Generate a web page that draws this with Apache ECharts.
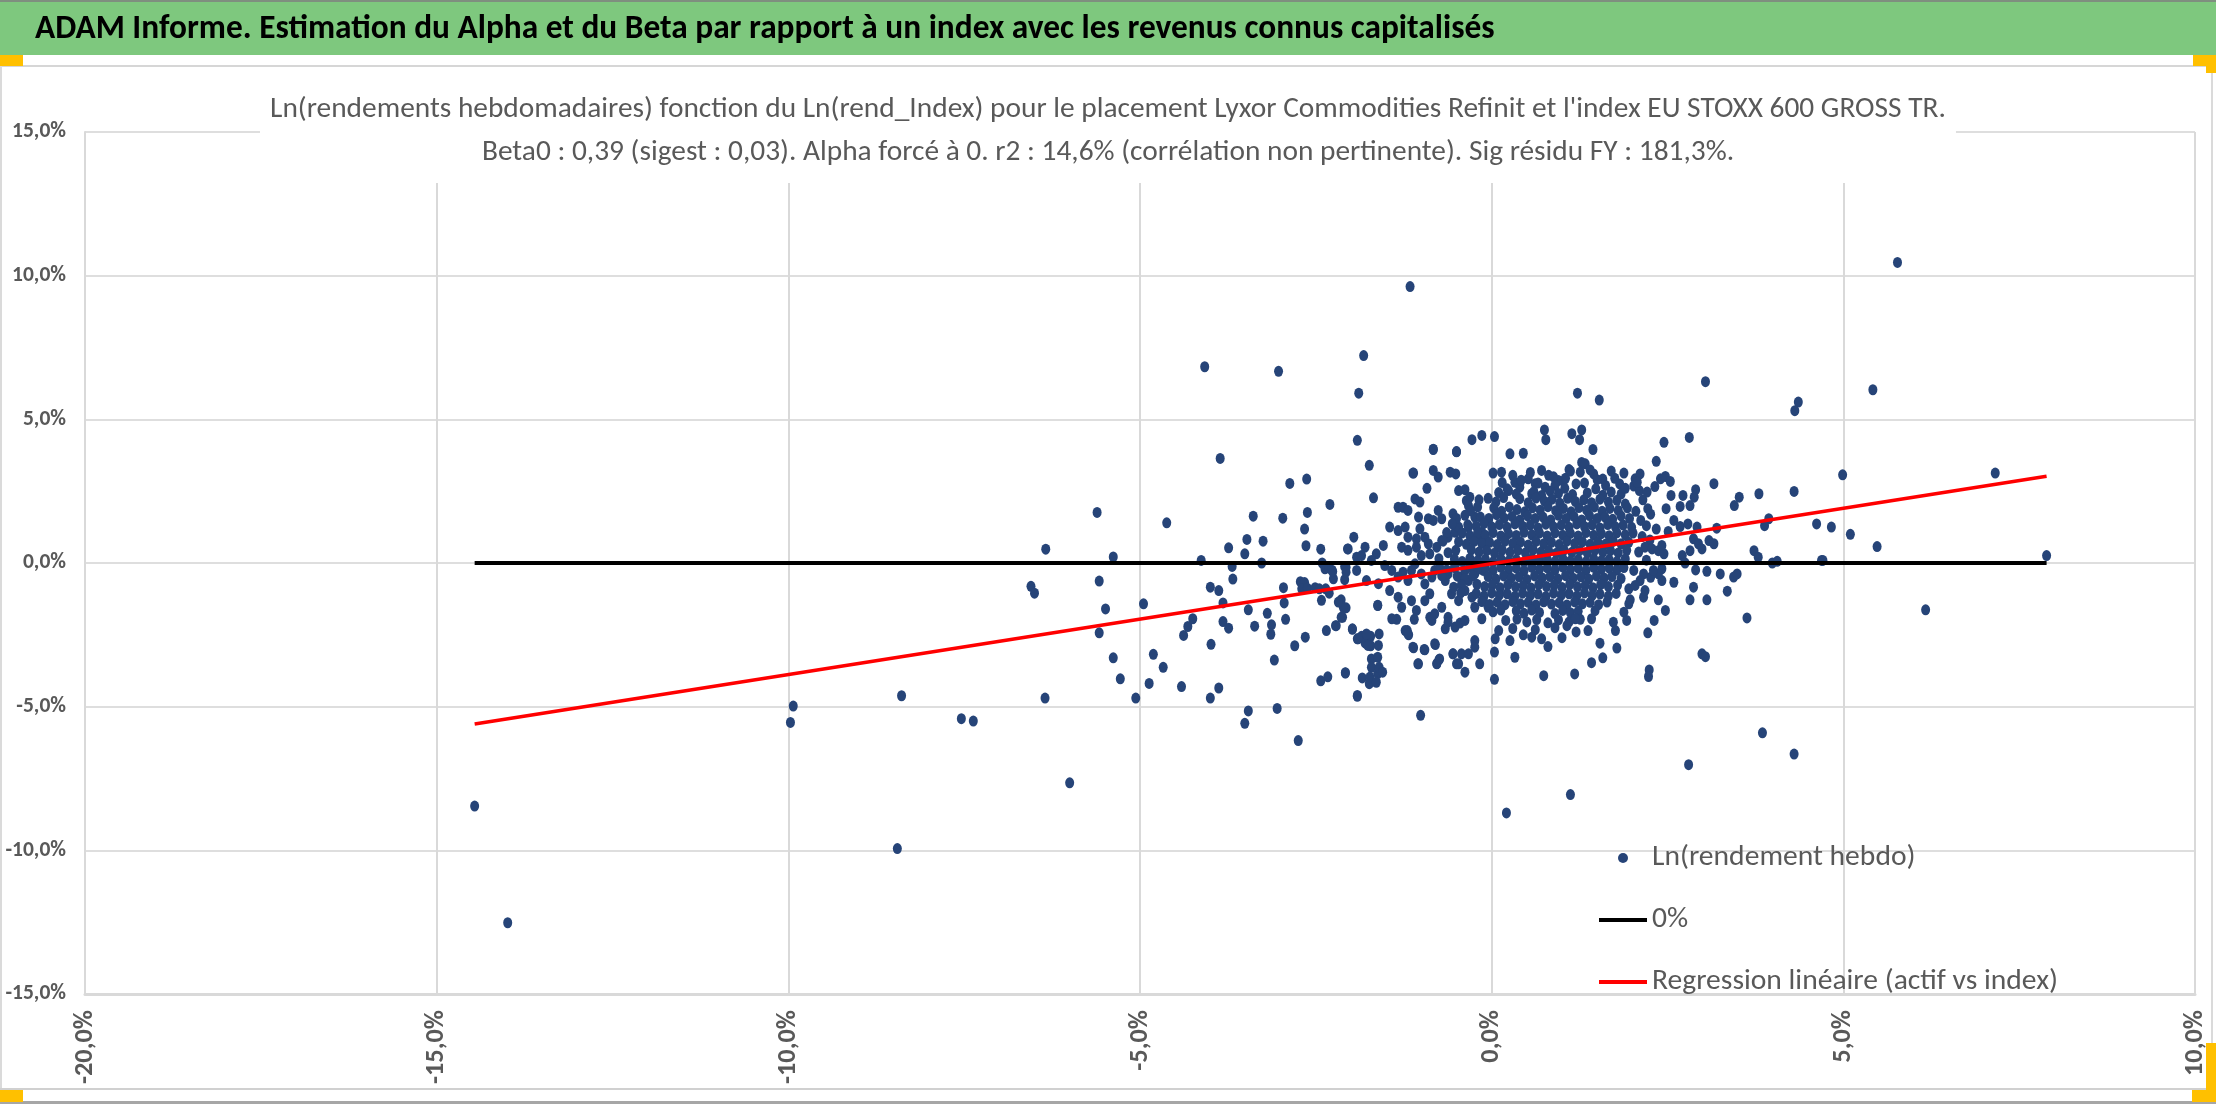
<!DOCTYPE html>
<html><head><meta charset="utf-8">
<script src="https://cdn.jsdelivr.net/npm/echarts@6/dist/echarts.min.js"></script>
<style>html,body{margin:0;padding:0;background:#fff}#c{width:2216px;height:1104px}</style>
</head><body><div id="c"></div>
<script>
// ---------------- DATA ----------------
const bannerText = "ADAM Informe. Estimation du Alpha et du Beta par rapport à un index avec les revenus connus capitalisés";
const titleLine1 = "Ln(rendements hebdomadaires) fonction du Ln(rend_Index) pour le placement Lyxor Commodities Refinit et l'index EU STOXX 600 GROSS TR.";
const titleLine2 = "Beta0 : 0,39 (sigest : 0,03). Alpha forcé à 0. r2 : 14,6% (corrélation non pertinente). Sig résidu FY : 181,3%.";
const seriesNames = ["Ln(rendement hebdo)", "0%", "Regression linéaire (actif vs index)"];

const xTicks = [-20, -15, -10, -5, 0, 5, 10];
const xTickLabels = ["-20,0%", "-15,0%", "-10,0%", "-5,0%", "0,0%", "5,0%", "10,0%"];
const yTicks = [-15, -10, -5, 0, 5, 10, 15];
const yTickLabels = ["-15,0%", "-10,0%", "-5,0%", "0,0%", "5,0%", "10,0%", "15,0%"];

const zeroLine = [[-14.46, 0], [7.89, 0]];
const regLine = [[-14.46, -5.60], [7.89, 3.02]];

const leftPts = [
[-14.46,-8.46],[-13.99,-12.52],[-9.97,-5.55],[-9.93,-4.98],[-8.45,-9.94],[-8.39,-4.62],[-7.54,-5.42],[-7.37,-5.50],
[-6.55,-0.81],[-6.50,-1.05],[-6.35,-4.70],[-6.34,0.48],[-6.00,-7.65],[-5.61,1.76],[-5.38,0.21],[-5.58,-0.63],
[-5.49,-1.60],[-5.58,-2.43],[-5.38,-3.30],[-5.28,-4.03],[-5.06,-4.70],[-4.95,-1.42],[-4.81,-3.18],[-4.67,-3.63],
[-4.87,-4.19],[-4.62,1.40],[-4.41,-4.30],[-4.13,0.09],[-4.38,-2.52],[-4.32,-2.21],[-4.25,-1.94],[-3.99,-2.83],
[-4.00,-0.84],[-3.88,-0.96],[-3.82,-1.39],[-3.82,-2.04],[-3.74,-2.27],[-4.00,-4.70],[-3.88,-4.35],[-3.74,0.53],
[-3.69,-0.12],[-3.68,-0.56],[-3.51,0.32],[-3.48,0.82],[-3.39,1.63],[-3.25,0.76],[-3.27,0.00],[-3.46,-1.63],
[-3.37,-2.20],[-3.46,-5.15],[-3.51,-5.58],[-3.19,-1.75],[-3.13,-2.15],[-3.14,-2.48],[-3.09,-3.38],[-3.05,-5.06],
[-2.97,1.56],[-2.87,2.77],[-2.63,2.92],[-2.62,1.76],[-2.66,1.18],[-2.64,0.60],[-2.96,-0.86],[-2.95,-1.39],
[-2.93,-1.96],[-2.80,-2.88],[-2.65,-2.58],[-2.75,-6.18],[-4.08,6.83],[-3.03,6.67],[-3.86,3.64]
];

const midPts = [
[-2.72,-0.65],[-2.66,-0.68],[-2.70,-0.90],[-2.62,-0.88],[-2.51,-0.86],[-2.43,0.48],[-2.41,0.00],[-2.30,2.04],
[-2.37,-0.20],[-2.31,-0.18],[-2.27,-0.25],[-2.45,-0.90],[-2.42,-1.30],[-2.36,-0.90],[-2.31,-1.05],[-2.25,-0.55],
[-2.26,-0.30],[-2.35,-2.35],[-2.22,-2.18],[-2.14,-1.28],[-2.12,-1.89],[-2.07,-1.56],[-2.09,-0.12],[-2.09,-0.58],
[-2.05,0.49],[-1.96,0.90],[-1.98,-2.31],[-1.91,-2.64],[-1.91,-4.64],[-2.43,-4.10],[-2.33,-3.96],[-2.08,-3.82],
[-1.85,-2.55],[-1.80,-2.78],[-1.72,-2.55],[-1.72,-2.88],[-1.71,-3.34],[-1.71,-3.63],[-1.62,-3.85],[-1.84,-4.00],
[-1.74,-4.20],[-1.62,-1.48],[-1.68,2.27],[-1.11,3.13],[-0.83,3.95],[-0.50,3.87],[-1.01,-5.30],[-1.05,-3.51],
[-0.96,-3.01],[-1.11,-2.95],[-0.80,-2.84],[-0.78,-3.50],[-0.75,-3.37],[-0.55,-3.16],[-0.50,-3.51],[-1.20,-2.35],
[-1.18,-2.50],[-1.10,-1.96],[-0.88,-1.89],[-0.85,-2.00],[-1.35,-1.96],[-1.16,9.62],[-1.82,7.22],[-1.89,5.91],
[-1.91,4.27],[-1.74,3.40],
[-2.04,0.49],[-1.80,0.55],[-1.64,0.32],[-1.54,0.61],[-1.92,0.20],[-1.85,0.26],[-1.71,0.09],[-2.07,-0.15],
[-1.92,-0.26],[-2.07,-0.32],[-1.78,-0.61],[-1.61,-0.72],[-2.11,-1.54],[-2.18,-1.36],[-1.62,-1.47],[-2.14,-1.89],
[-2.21,-2.18],[-1.98,-2.29],[-1.90,-2.64],[-1.78,-2.47],[-1.76,-2.87],[-1.60,-2.47],[-1.61,-2.87],[-1.91,-4.61],
[-1.73,-3.97],[-1.64,-4.15],[-1.62,-3.28],[-1.60,-3.63],[-1.55,-3.80],[-2.08,-3.83],
[-1.45,1.25],[-1.33,1.94],[-1.26,1.94],[-1.19,1.83],[-1.12,3.13],[-1.09,2.23],[-1.02,2.12],[-1.04,1.60],
[-0.92,2.60],[-0.83,3.96],[-0.83,3.22],[-0.76,2.99],[-0.59,3.16],[-0.51,3.10],[-0.50,3.88],[-0.47,2.52],
[-0.38,2.55],[-0.36,2.17],[-0.31,2.29],[-0.33,2.00],[-0.28,4.29],[-0.14,4.44],[0.04,4.40],
[-1.33,1.13],[-1.23,1.25],[-1.19,0.90],[-1.07,0.84],[-0.95,0.90],[-1.02,1.19],[-0.90,1.54],[-0.83,1.48],
[-0.76,1.83],[-0.71,1.54],[-1.28,0.55],[-1.19,0.44],[-1.07,0.55],[-1.00,0.26],[-0.88,0.32],[-0.90,0.67],
[-0.78,0.55],[-0.71,0.78],[-0.62,0.90],[-0.52,1.07],[-0.55,1.71],[-0.47,1.25],[-0.33,1.25],[-0.24,1.60],
[-0.19,0.90],[-0.07,0.78],[-0.14,1.07],[-0.05,1.48],
[-1.52,-0.09],[-1.42,-0.26],[-1.33,-0.49],[-1.26,-0.32],[-1.19,-0.61],[-1.14,-0.26],[-1.09,-0.03],[-1.00,-0.38],
[-0.95,-0.73],[-0.85,-0.49],[-0.81,-0.26],[-0.74,-0.15],[-0.66,-0.61],[-0.62,-0.38],[-0.52,-0.15],[-0.45,-0.49],
[-0.38,-0.26],[-0.33,-0.61],[-0.24,-0.38],[-0.12,-0.26],
[-1.45,-0.96],[-1.33,-1.19],[-1.28,-1.54],[-1.14,-1.31],[-1.07,-1.65],[-0.95,-1.31],[-0.88,-1.07],[-0.81,-1.77],
[-0.71,-1.54],[-0.62,-1.89],[-0.57,-1.07],[-0.47,-1.31],[-0.38,-0.96],[-0.28,-1.19],[-0.24,-1.54],[-0.12,-1.31],
[-1.42,-1.94],[-1.23,-2.35],[-1.19,-2.47],[-1.12,-2.93],[-1.04,-3.51],[-0.95,-3.02],[-0.81,-2.81],[-0.78,-3.51],
[-0.74,-3.34],[-0.55,-3.16],[-0.47,-3.51],[-0.43,-3.16],[-0.38,-3.80],[-0.33,-3.16],[-0.24,-2.70],[-0.24,-2.93],
[-0.17,-3.51],[-0.14,-1.94],[-0.05,-1.54],[-0.66,-2.29],[-0.52,-2.23],[-0.45,-2.09],[-0.38,-2.00],[-0.62,-2.06],
[0.04,-4.05],[0.04,-3.10],[0.05,-2.64],[0.10,-2.35],[0.26,-2.70],[0.33,-3.28],[0.57,-2.58],[0.71,-2.64],
[0.80,-2.91],[0.74,-3.92],
[0.26,3.80],[0.45,3.82],[0.02,3.13],[0.14,3.16],[0.75,4.63],[0.77,4.29],[0.71,3.22],[0.81,3.05],
[0.52,2.93],[0.33,2.81],[0.40,2.64],[0.24,2.52],[0.62,2.76],[0.57,2.41],[0.76,2.64],[0.95,2.87]
];

const coreUpper = [
[0.30,3.05],[0.55,3.15],[0.88,3.00],[1.10,3.25],[1.45,3.10],[1.70,3.20],
[0.15,2.80],[0.42,2.88],[0.66,2.78],[0.90,2.70],[1.02,2.85],[1.32,2.78],[1.58,2.92],[1.82,2.75],[2.02,2.68],
[0.10,2.45],[0.22,2.58],[0.35,2.40],[0.60,2.48],[0.71,2.35],[0.83,2.50],[0.95,2.42],[1.04,2.60],[1.15,2.38],[1.36,2.44],[1.48,2.58],[1.58,2.36],[1.70,2.47],[1.84,2.40],[2.10,2.52],
[-0.18,2.20],[-0.05,2.25],[0.06,2.12],[0.17,2.28],[0.40,2.24],[0.52,2.10],[0.63,2.26],[0.75,2.15],[0.86,2.22],[0.97,2.08],[1.08,2.25],[1.19,2.14],[1.31,2.20],[1.42,2.10],[1.54,2.22],[1.66,2.12],[1.78,2.18],[1.90,2.05],[2.15,2.20],
[-0.30,1.82],[-0.20,1.95],[0.03,1.92],[0.14,1.80],[0.25,1.95],[0.36,1.86],[0.47,1.78],[0.58,1.92],[0.69,1.84],[0.80,1.96],[0.91,1.82],[1.02,1.90],[1.13,1.78],[1.24,1.93],[1.35,1.84],[1.46,1.95],[1.57,1.80],[1.68,1.90],[1.80,1.83],[1.93,1.92],[2.05,1.80],[2.26,1.70],
[-0.50,1.55],[-0.38,1.66],[-0.16,1.60],[-0.04,1.55],[0.07,1.68],[0.18,1.56],[0.29,1.62],[0.40,1.50],[0.51,1.64],[0.62,1.55],[0.73,1.60],[0.84,1.50],[0.95,1.66],[1.06,1.55],[1.17,1.62],[1.28,1.50],[1.39,1.65],[1.50,1.55],[1.61,1.60],[1.72,1.52],[1.84,1.64],[1.96,1.55],[2.12,1.48],
[-0.56,1.36],[-0.34,1.33],[-0.22,1.28],[-0.11,1.38],[0.00,1.26],[0.11,1.34],[0.22,1.24],[0.33,1.36],[0.44,1.28],[0.55,1.32],[0.66,1.22],[0.77,1.35],[0.88,1.26],[0.99,1.32],[1.10,1.24],[1.21,1.36],[1.32,1.27],[1.43,1.33],[1.54,1.22],[1.65,1.34],[1.76,1.26],[1.87,1.32],[1.99,1.24],[2.20,1.30],[2.34,1.18],
[-0.64,1.06],[-0.42,1.04],[-0.31,0.95],[-0.20,1.05],[-0.09,0.97],[0.02,1.06],[0.13,0.94],[0.24,1.02],[0.35,0.96],[0.46,1.07],[0.57,0.98],[0.68,1.04],[0.79,0.94],[0.90,1.05],[1.01,0.97],[1.12,1.03],[1.23,0.94],[1.34,1.06],[1.45,0.97],[1.56,1.02],[1.67,0.95],[1.78,1.05],[1.90,0.98],[2.01,1.04],[2.14,0.92],
[-0.69,0.76],[-0.47,0.74],[-0.36,0.65],[-0.25,0.75],[-0.14,0.68],[-0.03,0.72],[0.08,0.64],[0.19,0.76],[0.30,0.68],[0.41,0.73],[0.52,0.63],[0.63,0.75],[0.74,0.67],[0.85,0.72],[0.96,0.64],[1.07,0.76],[1.18,0.68],[1.29,0.74],[1.40,0.65],[1.51,0.73],[1.62,0.66],[1.73,0.75],[1.84,0.67],[1.95,0.72],[2.25,0.80],
[-0.62,0.36],[-0.51,0.44],[-0.29,0.46],[-0.18,0.38],[-0.07,0.43],[0.04,0.34],[0.15,0.45],[0.26,0.37],[0.37,0.44],[0.48,0.35],[0.59,0.46],[0.70,0.38],[0.81,0.42],[0.92,0.34],[1.03,0.45],[1.14,0.37],[1.25,0.43],[1.36,0.35],[1.47,0.45],[1.58,0.38],[1.69,0.43],[1.80,0.35],[1.92,0.44],
[-0.75,0.15],[-0.53,0.14],[-0.42,0.05],[-0.31,0.16],[-0.20,0.08],[-0.09,0.13],[0.02,0.04],[0.13,0.15],[0.24,0.07],[0.35,0.12],[0.46,0.03],[0.57,0.15],[0.68,0.08],[0.79,0.13],[0.90,0.05],[1.01,0.16],[1.12,0.07],[1.23,0.12],[1.34,0.04],[1.45,0.15],[1.56,0.08],[1.67,0.12],[1.78,0.05],[1.90,0.14],[2.20,0.10]
];

const coreLower = [
[-0.64,-0.24],[-0.53,-0.16],[-0.31,-0.14],[-0.20,-0.22],[-0.09,-0.17],[0.02,-0.26],[0.13,-0.15],[0.24,-0.23],[0.35,-0.18],[0.46,-0.27],[0.57,-0.15],[0.68,-0.22],[0.79,-0.17],[0.90,-0.25],[1.01,-0.14],[1.12,-0.23],[1.23,-0.18],[1.34,-0.26],[1.45,-0.15],[1.56,-0.22],[1.67,-0.18],[1.78,-0.25],[1.88,-0.16],
[-0.71,-0.44],[-0.49,-0.46],[-0.38,-0.55],[-0.27,-0.44],[-0.05,-0.47],[0.06,-0.56],[0.17,-0.45],[0.28,-0.53],[0.39,-0.48],[0.50,-0.57],[0.61,-0.45],[0.72,-0.52],[0.83,-0.47],[0.94,-0.55],[1.05,-0.44],[1.16,-0.53],[1.27,-0.48],[1.38,-0.56],[1.49,-0.45],[1.60,-0.52],[1.71,-0.47],[1.84,-0.54],[2.26,-0.50],
[-0.54,-0.84],[-0.43,-0.76],[-0.21,-0.74],[-0.10,-0.82],[0.01,-0.77],[0.12,-0.86],[0.23,-0.75],[0.34,-0.83],[0.45,-0.78],[0.56,-0.87],[0.67,-0.75],[0.78,-0.82],[0.89,-0.77],[1.00,-0.85],[1.11,-0.74],[1.22,-0.83],[1.33,-0.78],[1.44,-0.86],[1.55,-0.75],[1.66,-0.82],[1.79,-0.77],[1.95,-0.90],
[-0.44,-1.04],[-0.22,-1.06],[-0.11,-1.15],[0.00,-1.04],[0.11,-1.12],[0.22,-1.07],[0.33,-1.16],[0.44,-1.05],[0.55,-1.13],[0.66,-1.08],[0.77,-1.17],[0.88,-1.05],[0.99,-1.12],[1.10,-1.07],[1.21,-1.15],[1.32,-1.04],[1.43,-1.13],[1.54,-1.08],[1.66,-1.15],[1.77,-1.06],
[-0.14,-1.34],[-0.03,-1.44],[0.08,-1.36],[0.19,-1.45],[0.30,-1.34],[0.41,-1.42],[0.52,-1.37],[0.63,-1.46],[0.74,-1.35],[0.85,-1.43],[0.96,-1.38],[1.07,-1.46],[1.18,-1.35],[1.29,-1.42],[1.40,-1.37],[1.52,-1.45],[1.64,-1.36],
[0.02,-1.70],[0.13,-1.64],[0.35,-1.66],[0.46,-1.75],[0.57,-1.64],[0.68,-1.72],[0.90,-1.76],[1.01,-1.65],[1.12,-1.73],[1.23,-1.68],[1.47,-1.66],
[0.20,-2.00],[0.36,-1.95],[0.50,-2.05],[0.64,-1.97],[0.80,-2.08],[0.95,-1.98],[1.10,-2.05],[1.26,-1.96],
[0.30,-2.28],[0.62,-2.32],[0.90,-2.25],[1.20,-2.40],[0.45,-2.50],[1.00,-2.60]
];

const rightPts = [
[1.53,5.67],[1.22,5.91],[3.04,6.31],[4.36,5.60],[4.31,5.30],[5.77,10.46],[5.42,6.03],
[1.14,4.50],[1.28,4.63],[1.25,4.29],[1.44,3.95],[2.45,4.20],[2.81,4.37],[2.34,3.54],[1.28,3.50],[1.33,3.45],
[1.26,3.16],[1.40,3.24],[1.88,3.13],[2.04,2.93],[2.11,3.10],[2.07,2.81],[2.40,2.93],[2.47,3.01],[2.54,2.84],
[3.16,2.76],[2.32,2.66],[2.21,2.47],[2.55,2.35],[2.72,2.35],[2.90,2.55],[2.88,2.29],[2.68,1.97],[2.82,2.00],
[2.48,1.89],[2.22,1.89],[3.80,2.41],[4.30,2.49],[3.52,2.29],[3.45,2.00],
[1.05,2.95],[1.12,3.20],[1.20,2.75],[1.50,2.90],[1.62,2.70],[1.75,2.95],[1.90,2.60],
[2.59,1.48],[2.68,1.27],[2.79,1.36],[2.92,1.25],[2.51,1.10],[3.20,1.21],[3.94,1.54],[3.88,1.30],[4.62,1.36],
[2.87,0.84],[2.94,0.67],[3.09,0.78],[3.16,0.67],[2.99,0.49],[2.82,0.43],[3.73,0.43],[3.79,0.20],[3.99,0.00],
[4.06,0.06],[4.69,0.09],[2.71,0.26],[2.75,0.00],[2.90,-0.24],[3.06,-0.29],[3.25,-0.38],[3.44,-0.49],[3.49,-0.38],
[2.87,-0.84],[2.82,-1.28],[3.06,-1.28],[3.35,-0.98],[3.63,-1.91],[2.99,-3.16],[3.04,-3.26],[2.24,-3.72],[2.23,-3.95],
[1.18,-3.86],[1.42,-3.47],[1.58,-3.30],[1.78,-2.96],[1.54,-2.79],[2.22,-2.43],[2.31,-2.00],[2.47,-1.65],[2.37,-1.28],
[2.16,-1.19],[2.18,-0.96],[1.95,-1.42],[1.97,-1.28],[1.88,-1.71],[1.92,-2.00],[1.73,-2.06],[1.76,-2.35],[1.37,-2.35],
[1.42,-1.94],[1.07,-2.18],[1.19,-1.94],[2.42,-0.61],[2.59,-0.67],[2.42,-0.20],[2.37,-0.38],[2.30,-0.26],
[2.09,0.38],[2.18,0.55],[2.28,0.49],[2.37,0.43],[2.45,0.32],[2.42,0.61],[2.02,-0.26],[2.16,-0.38],[2.11,-0.61],[2.04,-0.78],
[4.99,3.07],[7.16,3.13],[4.83,1.25],[5.10,1.00],[5.48,0.57],[4.71,0.09],[7.89,0.26],[6.17,-1.63],
[0.21,-8.70],[1.12,-8.06],[2.80,-7.02],[3.85,-5.91],[4.30,-6.65]
];

// ---------------- FONTS ----------------
function fontAvailable(name) {
  const ctx = document.createElement('canvas').getContext('2d');
  const s = 'mmmmmmmmmwwwwwlli 0123456789 ABCDEFGH abcdefgh';
  ctx.font = '80px monospace'; const a = ctx.measureText(s).width;
  ctx.font = '80px serif'; const b = ctx.measureText(s).width;
  ctx.font = '80px "' + name + '", monospace'; const c = ctx.measureText(s).width;
  ctx.font = '80px "' + name + '", serif'; const d = ctx.measureText(s).width;
  return a !== c && b !== d;
}
const FONT = ['Carlito', 'Calibri', 'Lato', 'Open Sans'].find(fontAvailable) || 'sans-serif';
const mctx = document.createElement('canvas').getContext('2d');
function fit(text, weight, width) {
  mctx.font = weight + ' 100px ' + FONT;
  return 100 * width / mctx.measureText(text).width;
}
const bannerSize = fit(bannerText, 'bold', 1460);
const titleSize = fit(titleLine1, 'normal', 1677);
const legendSize = fit(seriesNames[2], 'normal', 406);
const yLabSize = fit('10,0%', 'bold', 54);
const xLabSize = fit('10,0%', 'bold', 66);

const scatterData = [].concat(leftPts, midPts, coreUpper, coreLower, rightPts);
const ellipse = 'path://M50,0 A50,50 0 1,1 50,100 A50,50 0 1,1 50,0 Z';
const lineIcon = 'path://M0,0 L48,0 L48,4 L0,4 Z';

function lab(ticks, labels) {
  return function (v) { const i = ticks.indexOf(Math.round(v)); return i >= 0 ? labels[i] : ''; };
}

const ORANGE = '#FFC000';
const chart = echarts.init(document.getElementById('c'));
chart.setOption({
  animation: false,
  backgroundColor: '#ffffff',
  textStyle: { fontFamily: FONT },
  title: {
    text: titleLine1 + '\n' + titleLine2,
    left: 'center', top: 78,
    padding: [10, 10, 9, 10],
    backgroundColor: '#ffffff',
    textStyle: { fontFamily: FONT, fontSize: titleSize, fontWeight: 'normal', color: '#595959', lineHeight: 43 }
  },
  graphic: { elements: [
    { type: 'rect', shape: { x: 0, y: 0, width: 2216, height: 55 }, style: { fill: '#7ec87e' } },
    { type: 'rect', shape: { x: 0, y: 0, width: 2216, height: 2 }, style: { fill: '#7f8f7f' } },
    { type: 'text', x: 35, y: 30, style: { text: bannerText, fontFamily: FONT, fontWeight: 'bold', fontSize: bannerSize, fill: '#000', align: 'left', verticalAlign: 'middle' } },
    { type: 'rect', shape: { x: 0, y: 65, width: 2216, height: 2 }, style: { fill: '#d6d6d6' } },
    { type: 'rect', shape: { x: 0, y: 66, width: 2, height: 1023 }, style: { fill: '#dadada' } },
    { type: 'rect', shape: { x: 2211, y: 66, width: 2, height: 1023 }, style: { fill: '#dadada' } },
    { type: 'rect', shape: { x: 0, y: 1088, width: 2216, height: 2 }, style: { fill: '#d0d0d0' } },
    { type: 'rect', shape: { x: 0, y: 1101, width: 2216, height: 3 }, style: { fill: '#a6a6a6' } },
    { type: 'rect', shape: { x: 0, y: 55, width: 23, height: 11 }, style: { fill: ORANGE } },
    { type: 'rect', shape: { x: 2193, y: 55, width: 23, height: 11 }, style: { fill: ORANGE } },
    { type: 'rect', shape: { x: 2206, y: 55, width: 10, height: 18 }, style: { fill: ORANGE } },
    { type: 'rect', shape: { x: 0, y: 1090, width: 23, height: 12 }, style: { fill: ORANGE } },
    { type: 'rect', shape: { x: 2206, y: 1043, width: 10, height: 59 }, style: { fill: ORANGE } },
    { type: 'rect', shape: { x: 2192, y: 1090, width: 24, height: 12 }, style: { fill: ORANGE } }
  ]},
  grid: { left: 85, right: 21, top: 132, bottom: 110, containLabel: false },
  legend: {
    orient: 'vertical', left: 1594, top: 838,
    itemWidth: 48, itemHeight: 10, itemGap: 32,
    selectedMode: false,
    data: [
      { name: seriesNames[0] },
      { name: seriesNames[1], icon: lineIcon },
      { name: seriesNames[2], icon: lineIcon }
    ],
    textStyle: { fontFamily: FONT, fontSize: legendSize, color: '#595959', lineHeight: 30 }
  },
  xAxis: {
    type: 'value', min: -20, max: 10, interval: 5,
    axisLine: { show: true, onZero: false, lineStyle: { color: '#d9d9d9', width: 3 } },
    axisTick: { show: false },
    splitLine: { show: true, lineStyle: { color: '#d9d9d9', width: 2 } },
    axisLabel: { rotate: 90, margin: 16, color: '#595959', fontWeight: 'bold', fontSize: xLabSize, fontFamily: FONT, formatter: lab(xTicks, xTickLabels) }
  },
  yAxis: {
    type: 'value', min: -15, max: 15, interval: 5,
    axisLine: { show: true, onZero: false, lineStyle: { color: '#d9d9d9', width: 2 } },
    axisTick: { show: false },
    splitLine: { show: true, lineStyle: { color: '#dedede', width: 2 } },
    axisLabel: { margin: 19, color: '#595959', fontWeight: 'bold', fontSize: yLabSize, fontFamily: FONT, formatter: lab(yTicks, yTickLabels) }
  },
  series: [
    { name: seriesNames[1], type: 'line', data: zeroLine, symbol: 'none', silent: true,
      lineStyle: { color: '#000000', width: 4 }, itemStyle: { color: '#000000' } },
    { name: seriesNames[2], type: 'line', data: regLine, symbol: 'none', silent: true,
      lineStyle: { color: '#ff0000', width: 3.6 }, itemStyle: { color: '#ff0000' } },
    { name: seriesNames[0], type: 'scatter', data: scatterData, symbol: ellipse, symbolSize: [9, 11],
      itemStyle: { color: '#264478', opacity: 1 }, silent: true }
  ]
});
</script></body></html>
